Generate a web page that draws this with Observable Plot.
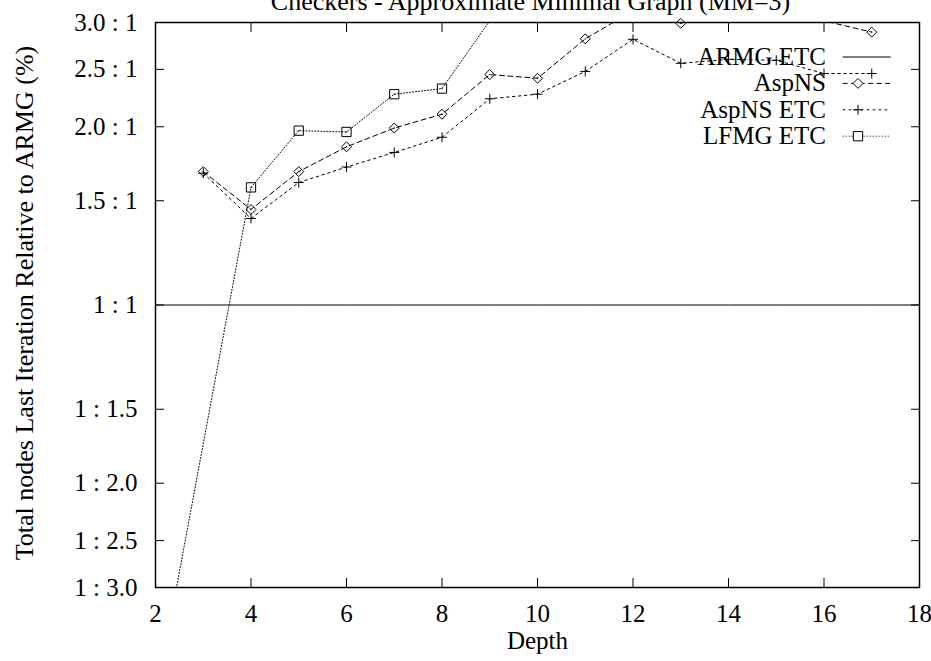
<!DOCTYPE html>
<html><head><meta charset="utf-8">
<script src="https://cdn.jsdelivr.net/npm/d3@7"></script>
<script src="https://cdn.jsdelivr.net/npm/@observablehq/plot@0.6"></script>
<style>html,body{margin:0;padding:0;background:#fff;}</style>
</head><body><div id="chart"></div>
<script>
const chartTitle = "Checkers - Approximate Minimal Graph (MM=3)";
const xLabel = "Depth";
const yLabel = "Total nodes Last Iteration Relative to ARMG (%)";
const xTicks = [2, 4, 6, 8, 10, 12, 14, 16, 18];
const yTicks = [1/3, 1/2.5, 1/2, 1/1.5, 1, 1.5, 2, 2.5, 3];
const yTickLabels = ["1 : 3.0", "1 : 2.5", "1 : 2.0", "1 : 1.5", "1 : 1", "1.5 : 1", "2.0 : 1", "2.5 : 1", "3.0 : 1"];
const seriesNames = ["ARMG ETC", "AspNS", "AspNS ETC", "LFMG ETC"];

const armgDepth = [2, 3, 4, 5, 6, 7, 8, 9, 10, 11, 12, 13, 14, 15, 16, 17, 18];
const armgRatio = [1, 1, 1, 1, 1, 1, 1, 1, 1, 1, 1, 1, 1, 1, 1, 1, 1];

const aspnsDepth = [3, 4, 5, 6, 7, 8, 9, 10, 11, 12, 13, 14, 15, 16, 17];
const aspnsRatio = [1.68, 1.45, 1.68, 1.85, 1.99, 2.10, 2.45, 2.415, 2.815, 3.14, 2.99, 3.2, 3.15, 3.02, 2.89];

const aspnsEtcDepth = [3, 4, 5, 6, 7, 8, 9, 10, 11, 12, 13, 14, 15, 16, 17];
const aspnsEtcRatio = [1.67, 1.40, 1.61, 1.71, 1.81, 1.92, 2.23, 2.27, 2.48, 2.81, 2.56, 2.60, 2.59, 2.46, 2.46];

const lfmgDepth = [2, 4, 5, 6, 7, 8, 9];
const lfmgRatio = [0.215, 1.58, 1.97, 1.96, 2.27, 2.32, 3.02];

const toRows = (depth, ratio) => depth.map((d, i) => ({depth: d, ratio: ratio[i]}));
const armg = toRows(armgDepth, armgRatio);
const aspns = toRows(aspnsDepth, aspnsRatio);
const aspnsEtc = toRows(aspnsEtcDepth, aspnsEtcRatio);
const lfmg = toRows(lfmgDepth, lfmgRatio);

const yDomain = [yTicks[0], yTicks[yTicks.length - 1]];
const inside = rows => rows.filter(r => r.ratio >= yDomain[0] && r.ratio <= yDomain[1]);

const FONT = "'Liberation Serif', 'Times New Roman', Times, serif";
const styles = [
  {name: seriesNames[0], data: armg, dash: null, symbol: null, r: 0},
  {name: seriesNames[1], data: aspns, dash: "5,3.5", symbol: "diamond2", r: 4.5},
  {name: seriesNames[2], data: aspnsEtc, dash: "2.5,3.5", symbol: "plus", r: 3.3},
  {name: seriesNames[3], data: lfmg, dash: "1,2", symbol: "square2", r: 5.9}
];

const marks = [];
for (const s of styles) {
  marks.push(Plot.line(s.data, {x: "depth", y: "ratio", stroke: "black", strokeWidth: 1, strokeDasharray: s.dash ?? undefined, clip: true}));
  if (s.symbol) {
    marks.push(Plot.dot(inside(s.data), {x: "depth", y: "ratio", symbol: s.symbol, r: s.r, stroke: "black", fill: "none", strokeWidth: 1}));
    if (s.symbol !== "plus") marks.push(Plot.dot(inside(s.data), {x: "depth", y: "ratio", r: 0.7, fill: "black", stroke: "none"}));
  }
}

const chart = Plot.plot({
  width: 931, height: 661,
  marginLeft: 155, marginRight: 12, marginTop: 22, marginBottom: 74,
  style: {fontFamily: FONT, fontSize: "25px", background: "white", color: "black", overflow: "visible"},
  x: {domain: [2, 18]},
  y: {type: "log", domain: yDomain},
  marks: [
    Plot.axisX({ticks: xTicks, anchor: "bottom", tickSize: -9, tickPadding: 26, label: null, tickFormat: d => String(d), strokeWidth: 1}),
    Plot.axisX({ticks: xTicks, anchor: "top", tickSize: -9, label: null, tickFormat: () => "", strokeWidth: 1}),
    Plot.axisY({ticks: yTicks, anchor: "left", tickSize: -9, tickPadding: 27, label: null, tickFormat: d => yTickLabels[yTicks.indexOf(d)], strokeWidth: 1}),
    Plot.axisY({ticks: yTicks, anchor: "right", tickSize: -9, label: null, tickFormat: () => "", strokeWidth: 1}),
    ...marks,
    Plot.frame({stroke: "black", strokeWidth: 1.5}),
    Plot.text([chartTitle], {frameAnchor: "top", textAnchor: "middle", dy: -13, dx: -7, lineAnchor: "bottom", fontSize: 26, fill: "black"}),
    Plot.text([xLabel], {frameAnchor: "bottom", textAnchor: "middle", dy: 61, lineAnchor: "bottom", fontSize: 25, fill: "black"}),
    Plot.text([yLabel], {frameAnchor: "left", textAnchor: "middle", dx: -123, dy: -2, rotate: -90, lineAnchor: "bottom", fontSize: 26, fill: "black"})
  ]
});
document.getElementById("chart").appendChild(chart);

// Legend (inside the plot area, top right, gnuplot style)
const svg = d3.select(chart.tagName.toLowerCase() === "svg" ? chart : chart.querySelector("svg"));
const lg = svg.append("g").attr("font-family", FONT).attr("font-size", 25).attr("fill", "black");
const symMap = {diamond2: d3.symbolDiamond2, plus: d3.symbolPlus, square2: d3.symbolSquare2};
styles.forEach((s, i) => {
  const y = 57 + i * 26.4;
  lg.append("text").attr("x", 826).attr("y", y).attr("dy", "0.32em").attr("text-anchor", "end").text(s.name);
  const ln = lg.append("line").attr("x1", 842.7).attr("x2", 890.7).attr("y1", y).attr("y2", y).attr("stroke", "black").attr("stroke-width", 1);
  if (s.dash) ln.attr("stroke-dasharray", s.dash);
  if (s.symbol) {
    lg.append("path").attr("transform", `translate(858,${y})`)
      .attr("d", d3.symbol(symMap[s.symbol], Math.PI * s.r * s.r)())
      .attr("fill", "white").attr("stroke", "black").attr("stroke-width", 1);
  }
});
</script>
</body></html>
